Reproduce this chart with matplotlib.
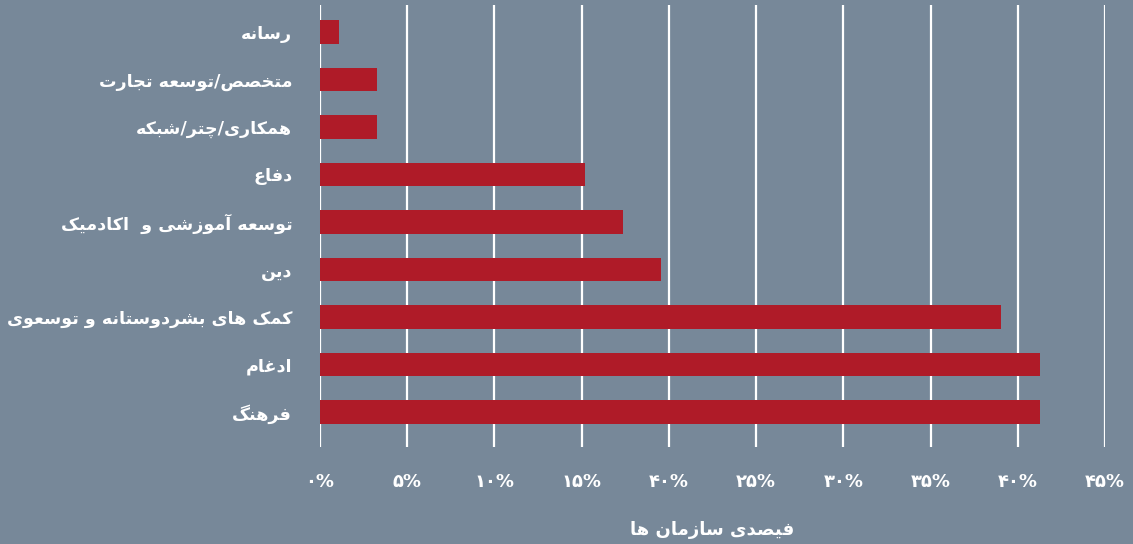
import unicodedata
import matplotlib
matplotlib.use('Agg')
import matplotlib.pyplot as plt

categories = ['رسانه', 'متخصص/توسعه تجارت', 'همکاری/چتر/شبکه', 'دفاع',
              'توسعه آموزشی و  اکادمیک', 'دین', 'کمک های بشردوستانه و توسعوی',
              'ادغام', 'فرهنگ']
values = [1.09, 3.26, 3.26, 15.22, 17.39, 19.57, 39.05, 41.30, 41.30]
tick_vals = [0, 5, 10, 15, 20, 25, 30, 35, 40, 45]
tick_labels = ['۰%', '۵%', '۱۰%', '۱۵%', '۴۰%', '۲۵%', '۳۰%', '۳۵%', '۴۰%', '۴۵%']
xlabel = 'فیصدی سازمان ها'


def form(ch, kind):
    # presentation form of an arabic letter, or None
    try:
        return unicodedata.lookup(unicodedata.name(ch) + ' ' + kind + ' FORM')
    except (KeyError, ValueError):
        return None


def shape(text):
    # tiny arabic/persian shaper: pick joining forms, then reverse for RTL
    n = len(text)
    out = []
    for i, ch in enumerate(text):
        if form(ch, 'ISOLATED') is None and form(ch, 'FINAL') is None:
            out.append(ch)
            continue
        prev = text[i - 1] if i > 0 else ''
        nxt = text[i + 1] if i < n - 1 else ''
        join_prev = bool(prev) and form(prev, 'INITIAL') is not None
        join_next = bool(nxt) and form(ch, 'INITIAL') is not None and \
            (form(nxt, 'FINAL') is not None)
        if join_prev and join_next:
            f = form(ch, 'MEDIAL')
        elif join_prev:
            f = form(ch, 'FINAL')
        elif join_next:
            f = form(ch, 'INITIAL')
        else:
            f = form(ch, 'ISOLATED')
        out.append(f or ch)
    return ''.join(out)[::-1]


bg = '#778899'
bar_col = '#AF1B28'

fig = plt.figure(figsize=(11.33, 5.44), dpi=100, facecolor=bg)
ax = fig.add_axes([0.2824, 0.1783, 0.6929, 0.8125], facecolor=bg)

y = list(range(len(categories)))[::-1]
ax.barh(y, values, height=0.5, color=bar_col, zorder=3)

ax.set_xlim(0, 45)
ax.set_ylim(-0.74, 8.57)
ax.set_xticks(tick_vals)
ax.set_xticklabels(tick_labels, fontsize=13, fontweight='bold', color='white')
ax.set_yticks(y)
ax.set_yticklabels([shape(c) for c in categories], fontsize=12.6,
                   fontweight='bold', color='white')
ax.tick_params(length=0)
ax.tick_params(axis='x', pad=19)
ax.tick_params(axis='y', pad=20)
ax.grid(axis='x', color='white', linewidth=1.6, zorder=0)
for s in ax.spines.values():
    s.set_visible(False)

ax.set_xlabel(shape(xlabel), fontsize=13, fontweight='bold', color='white',
              labelpad=21)

fig.savefig('out.png', dpi=100, facecolor=bg)
